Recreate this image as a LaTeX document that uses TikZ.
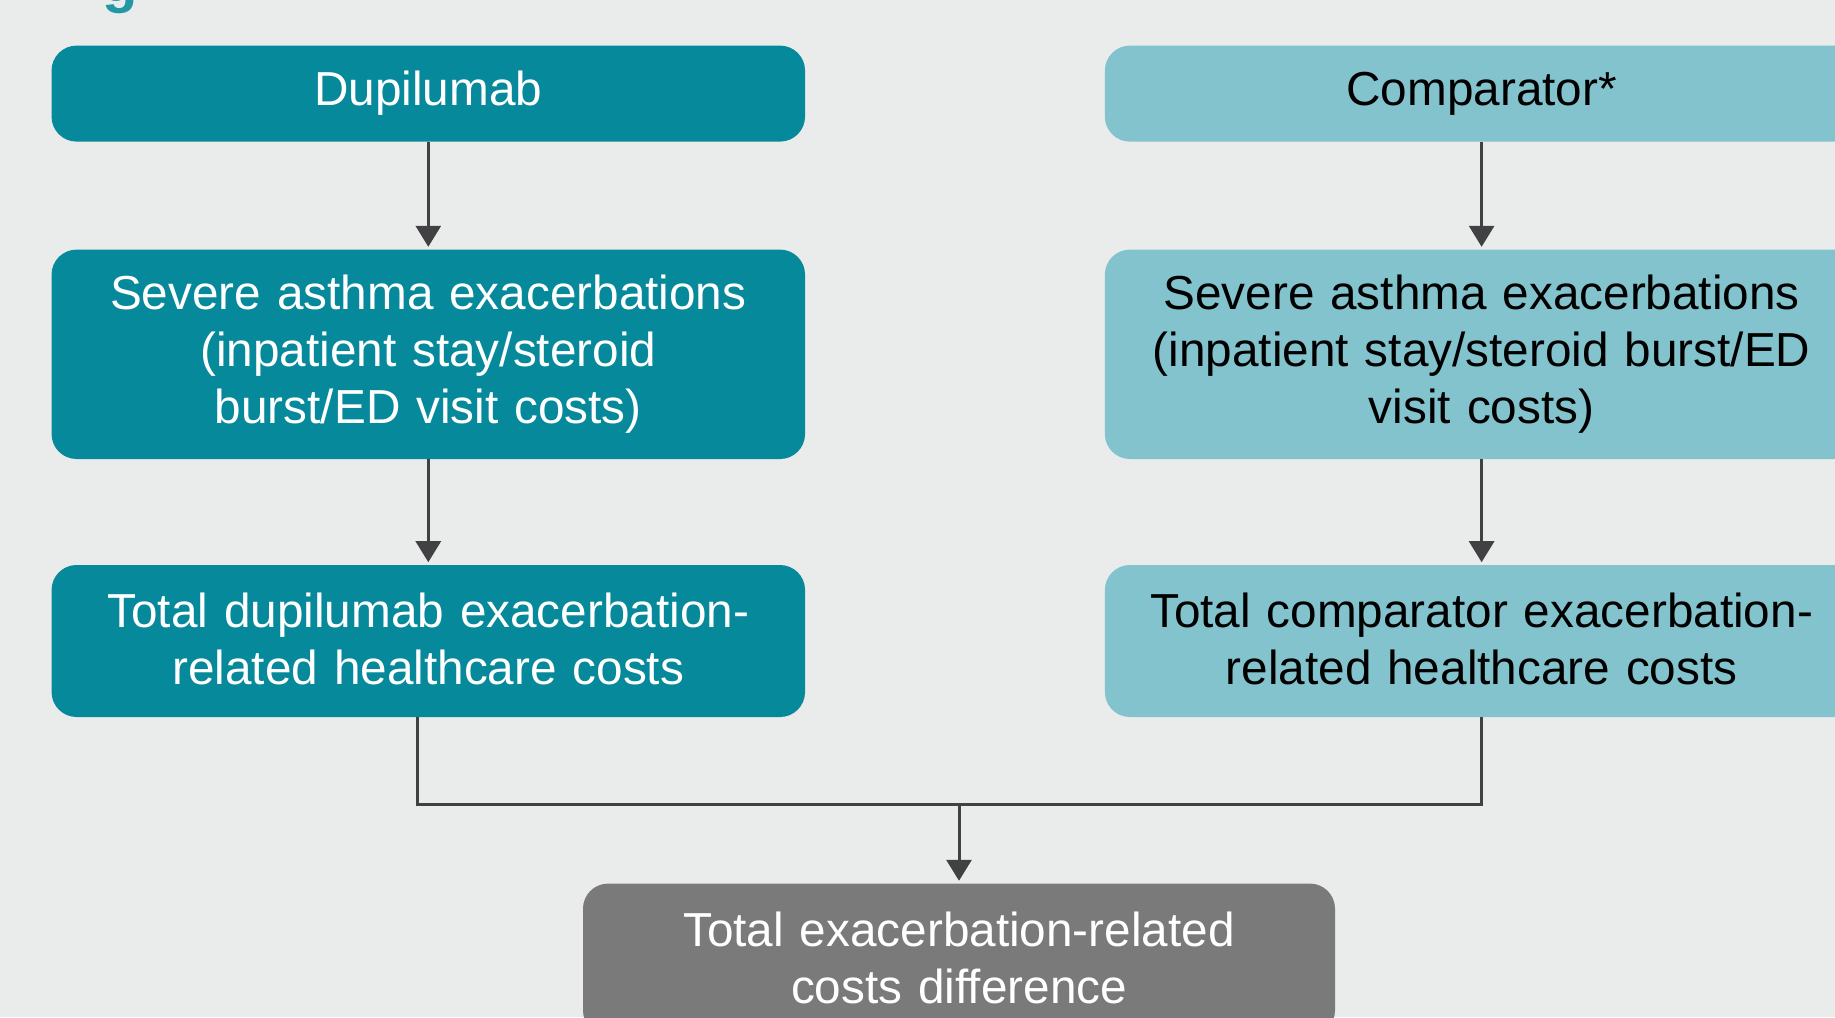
\documentclass[tikz,border=0pt]{standalone}
\usepackage{fontspec}
\setmainfont{Liberation Sans}
\usepackage{tikz}
\usetikzlibrary{arrows.meta,positioning,calc}
\definecolor{bggray}{RGB}{234,236,235}
\definecolor{dupteal}{RGB}{6,137,155}
\definecolor{compteal}{RGB}{130,195,205}
\definecolor{diffgray}{RGB}{122,122,122}
\definecolor{arrowgray}{RGB}{65,64,66}
\definecolor{titleteal}{RGB}{34,152,166}
\tikzset{
  dupbox/.style={fill=dupteal, text=white, rounded corners=12.5pt,
    minimum width=376.75pt, text width=360pt, align=center, inner sep=0pt,
    font=\fontsize{23.85}{28.65}\selectfont},
  compbox/.style={dupbox, fill=compteal, text=black},
  diffbox/.style={dupbox, fill=diffgray, minimum width=376pt},
  flow/.style={-{Triangle[width=12.5pt,length=10.5pt]}, line width=1.5pt,
    draw=arrowgray, shorten >=1.2pt},
  joinline/.style={line width=1.5pt, draw=arrowgray}
}

\begin{document}
\begin{tikzpicture}[x=1pt,y=1pt,node distance=53.6pt]
\fill[bggray] (0,0) rectangle (917.5,-508.5);
\useasboundingbox (0,0) rectangle (917.5,-508.5);

\node[anchor=base west, inner sep=0pt, text=titleteal,
  font=\bfseries\fontsize{29}{29}\selectfont] (figtitle) at (51.2,-0.6) {g};

% left column
\node[dupbox, minimum height=48pt] (dupi) at (214.15,-46.8) {Dupilumab};
\node[dupbox, below=53.6pt of dupi, minimum height=104.7pt] (dupsev)
  {Severe asthma exacerbations\\(inpatient stay/steroid\\burst/ED visit costs)};
\node[dupbox, below=52.6pt of dupsev, minimum height=76pt] (dupsum)
  {Total dupilumab exacerbation-\\related healthcare costs\vspace{2pt}};

% right column
\node[compbox, minimum height=48pt] (comp) at (740.8,-46.8) {Comparator*};
\node[compbox, below=53.6pt of comp, minimum height=104.7pt] (compsev)
  {Severe asthma exacerbations\\(inpatient stay/steroid burst/ED\\visit costs)};
\node[compbox, below=52.6pt of compsev, minimum height=76pt] (compsum)
  {Total comparator exacerbation-\\related healthcare costs\vspace{2pt}};

% difference
\node[diffbox, minimum height=76pt] (diff) at (479.5,-479.8)
  {Total exacerbation-related\\costs difference\vspace{2pt}};
\coordinate (join) at (diff.north |- 0,-402);

\draw[flow] (dupi)--(dupsev);
\draw[flow] (dupsev)--(dupsum);
\draw[flow] (comp)--(compsev);
\draw[flow] (compsev)--(compsum);
\draw[joinline] ([xshift=-5.25pt]dupsum.south) |- (join) -| (compsum.south);
\draw[flow] (join)--(diff);
\end{tikzpicture}
\end{document}
